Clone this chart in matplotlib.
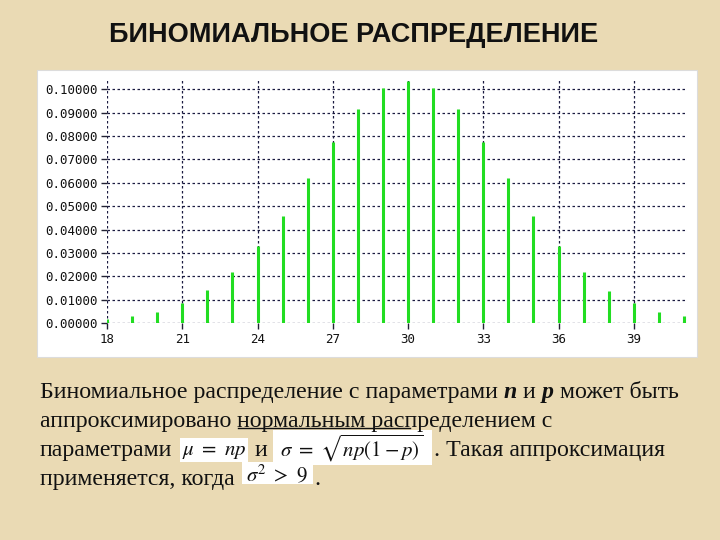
import matplotlib
matplotlib.use("Agg")
import matplotlib.pyplot as plt
from matplotlib.patches import Rectangle
from matplotlib.lines import Line2D
from matplotlib.ticker import FormatStrFormatter

# binomial probabilities
k_values = list(range(18, 42))
probs = [0.0018, 0.0028, 0.0047, 0.0084, 0.0141, 0.0218, 0.0328, 0.0459,
         0.0620, 0.0776, 0.0915, 0.1004, 0.1034, 0.1004, 0.0915, 0.0776,
         0.0620, 0.0459, 0.0330, 0.0218, 0.0138, 0.0084, 0.0047, 0.0030]
x_ticks = [18, 21, 24, 27, 30, 33, 36, 39]
y_ticks = [0.0, 0.01, 0.02, 0.03, 0.04, 0.05, 0.06, 0.07, 0.08, 0.09, 0.10]

W, H = 720, 540
BG = "#eadab4"
GREEN = "#22dd22"
GRID = "#1a1a40"
INK = "#111111"


def px(x, y):
    """pixel coords (origin top-left) -> figure fraction"""
    return x / W, 1 - y / H


def white_box(xl, yt, xr, yb, edge="none"):
    a, b = px(xl, yb)
    c, d = px(xr, yt)
    fig.add_artist(Rectangle((a, b), c - a, d - b, transform=fig.transFigure,
                             facecolor="white", edgecolor=edge, lw=0.8, zorder=0))


fig = plt.figure(figsize=(7.2, 5.4), dpi=100, facecolor=BG)

# white chart panel
white_box(37, 70, 697, 357, edge="#dcdcdc")

ax = fig.add_axes([107 / W, 1 - 323 / H, (687 - 107) / W, (323 - 80) / H])
ax.set_facecolor("white")
ax.vlines(k_values, 0, probs, color=GREEN, lw=2.2, zorder=3)
ax.set_xlim(18, 41.12)
ax.set_ylim(0, 0.104)
ax.set_xticks(x_ticks)
ax.set_yticks(y_ticks)
ax.yaxis.set_major_formatter(FormatStrFormatter("%.5f"))
ax.grid(True, color=GRID, linestyle=(0, (2, 2)), lw=0.9, zorder=1)
for s in ax.spines.values():
    s.set_visible(False)
ax.tick_params(axis="both", length=4, width=1, color="#222233", pad=3,
               labelsize=9, labelcolor=INK)
for lab in ax.get_xticklabels() + ax.get_yticklabels():
    lab.set_family("DejaVu Sans Mono")

# title
fig.text(*px(354, 35.5), "БИНОМИАЛЬНОЕ РАСПРЕДЕЛЕНИЕ", ha="center", va="center",
         fontsize=19.5, fontweight="bold", family="Liberation Sans", color=INK)

# body text
serif = dict(family="Liberation Serif", fontsize=17.2, color=INK, va="baseline")
fig.canvas.draw()
rend = fig.canvas.get_renderer()


def run(x, y, parts):
    """place text parts one after another starting at pixel x, baseline y;
    returns the x where each part starts"""
    starts = []
    for txt, extra in parts:
        starts.append(x)
        t = fig.text(*px(x, y), txt, **{**serif, **extra})
        x += t.get_window_extent(rend).width
    return starts


bi = dict(fontweight="bold", style="italic")
run(40, 398, [("Биномиальное распределение с параметрами ", {}), ("n", bi),
              (" и ", {}), ("p", bi), (" может быть", {})])
s2 = run(40, 427, [("аппроксимировано ", {}), ("нормальным распределением с", {})])
fig.add_artist(Line2D([(s2[1] + 1) / W, 410 / W], [1 - 428 / H, 1 - 428 / H],
                      transform=fig.transFigure, color=INK, lw=1))
run(40, 456, [("параметрами", {})])
run(255, 456, [("и", {})])
run(434, 456, [(". Такая аппроксимация", {})])
run(40, 485, [("применяется, когда", {})])
run(314, 485, [(".", {})])

# formula boxes
white_box(180, 438, 248, 462)
white_box(273, 430, 432, 465)
white_box(242, 462, 313, 484)
mt = dict(color=INK, ha="center", va="center", math_fontfamily="stix")
fig.text(*px(214, 451), r"$\mu\ =\ np$", fontsize=15, **mt)
fig.text(*px(352, 448), r"$\sigma\ =\ \sqrt{np\left(1-p\right)}$", fontsize=15, **mt)
fig.text(*px(277, 474), r"$\sigma^2\ >\ 9$", fontsize=15, **mt)

fig.savefig("out.png", dpi=100, facecolor=BG)
